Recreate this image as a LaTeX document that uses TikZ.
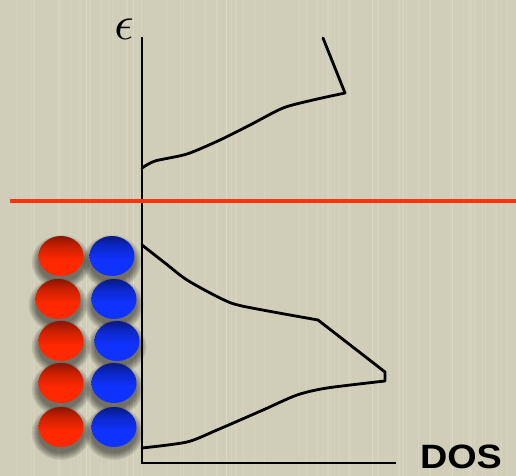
\documentclass[tikz,border=0pt]{standalone}
\usepackage{fontspec}
\newfontfamily\labelfont{Liberation Sans}
\usepackage{tikz}
\usetikzlibrary{calc}
\definecolor{paper}    {RGB}{208, 206, 184}
\definecolor{fermired} {RGB}{255,  50,  10}
\definecolor{ballred}  {RGB}{255,  40,   0}
\definecolor{redtop}   {RGB}{140,  20,   0}
\definecolor{ballblue} {RGB}{ 15,  50, 255}
\definecolor{bluetop}  {RGB}{ 10,  25, 130}
\pgfdeclareverticalshading{redsphere}{100bp}{color(0bp)=(ballred); color(45bp)=(ballred);
  color(62bp)=(ballred!80!black); color(75bp)=(redtop); color(100bp)=(redtop)}
\pgfdeclareverticalshading{bluesphere}{100bp}{color(0bp)=(ballblue); color(45bp)=(ballblue);
  color(62bp)=(ballblue!80!black); color(75bp)=(bluetop); color(100bp)=(bluetop)}

\begin{document}
\begin{tikzpicture}[
  x=0.025cm,y=-0.025cm,
  axis/.style={line width=2.1pt,line cap=rect},
  dos/.style={line width=2pt,line join=round,line cap=round},
  fermi/.style={draw=fermired,line width=3pt},
  redball/.style={shading=redsphere},
  blueball/.style={shading=bluesphere},
  blob/.style={fill=black,opacity=0.07},
]

%% Background
\fill[paper] (0,0) rectangle (516,476);
\useasboundingbox (0,0) rectangle (516,476);
\pgfmathsetseed{7}
\foreach \i in {1,...,70}{
  \pgfmathsetmacro{\sx}{rnd*516}
  \draw[white,opacity=0.12,line width=0.8pt] (\sx,0) -- (\sx,476);
}

%% Axes
\coordinate (origin) at (142,463);
\coordinate (ytop)   at (142,38);
\coordinate (xend)   at (395,463);
\draw[axis] (ytop) -- (origin) -- (xend);
\node[inner sep=0pt] (eps) at (124,29) {\scalebox{3.4}{$\epsilon$}};
\node[font=\labelfont\bfseries\fontsize{24}{28}\selectfont] (dos) at (461,457)
  {\scalebox{1.12}[1]{DOS}};

%% Fermi level
\coordinate (fl) at (10,201);
\coordinate (fr) at (516,201);
\draw[fermi] (fl) -- (fr);

%% Upper band (empty)
\draw[dos] plot[smooth,tension=0.45] coordinates
  {(142,168) (155,161) (187,154) (220,140) (250,125) (283,108) (313,100) (345,93)}
  -- (323,38);

%% Lower band (filled)
\draw[dos] plot[smooth,tension=0.45] coordinates
  {(142,245) (165,263) (187,280) (220,298) (242,306) (318,320)}
  -- (385,372) -- (385,381)
  -- plot[smooth,tension=0.45] coordinates
  {(385,381) (327,388) (297,395) (263,410) (217,430) (187,442) (142,448)};

%% Electrons (spin up / spin down)
\foreach \rx/\bx/\yy in {61/112/256, 58/114/299, 61/117/341, 61/114/383, 61/114/427}{
  \foreach \g in {0,...,7}{
    \fill[blob] (\rx,\yy+6) ellipse ({22.5+\g} and {20+\g});
    \fill[blob] (\bx,\yy+6) ellipse ({22.5+\g} and {20+\g});
  }
  \shade[redball]  (\rx,\yy) ellipse (22.5 and 20);
  \shade[blueball] (\bx,\yy) ellipse (22.5 and 20);
}

\end{tikzpicture}
\end{document}
